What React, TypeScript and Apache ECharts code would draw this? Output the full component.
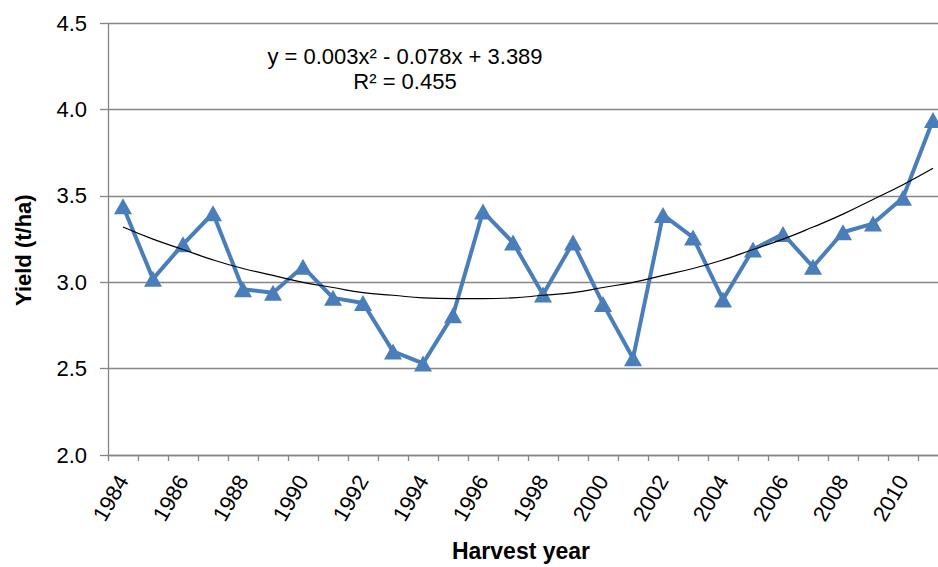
import React, { useEffect, useRef } from "react";
import * as echarts from "echarts";

const years = [
  "1984", "1985", "1986", "1987", "1988", "1989", "1990", "1991", "1992", "1993",
  "1994", "1995", "1996", "1997", "1998", "1999", "2000", "2001", "2002", "2003",
  "2004", "2005", "2006", "2007", "2008", "2009", "2010", "2011",
];

const yieldValues = [
  3.44, 3.02, 3.22, 3.40, 2.96, 2.94, 3.09, 2.91, 2.88, 2.60,
  2.53, 2.81, 3.41, 3.23, 2.93, 3.23, 2.875, 2.56, 3.39, 3.26,
  2.90, 3.19, 3.28, 3.09, 3.29, 3.34, 3.49, 3.94,
];

// polynomial trend line, values at each year
const trendValues = [
  3.32, 3.25, 3.19, 3.13, 3.08, 3.04, 3.00, 2.97, 2.94, 2.925,
  2.91, 2.906, 2.906, 2.91, 2.925, 2.94, 2.97, 3.00, 3.04, 3.08,
  3.13, 3.19, 3.25, 3.32, 3.395, 3.48, 3.565, 3.66,
];

const equationLine1 = "y = 0.003x² - 0.078x + 3.389";
const equationLine2 = "R² = 0.455";

const FONT = "'Liberation Sans', Arial, sans-serif";
const AXIS_GRAY = "#868686";

export default function App() {
  const ref = useRef<HTMLDivElement>(null);

  useEffect(() => {
    if (!ref.current) return;
    const chart = echarts.init(ref.current, null, { renderer: "svg" });
    chart.setOption({
      animation: false,
      backgroundColor: "#ffffff",
      textStyle: { fontFamily: FONT },
      grid: { left: 108, top: 23.3, right: 0, bottom: 110.3, containLabel: false },
      xAxis: {
        type: "category",
        data: years,
        boundaryGap: true,
        name: "Harvest year",
        nameLocation: "middle",
        nameGap: 84,
        nameTextStyle: {
          fontFamily: FONT,
          fontWeight: "bold",
          fontSize: 23,
          color: "#000",
          padding: [0, 14, 0, 0],
        },
        axisLine: { show: true, lineStyle: { color: AXIS_GRAY, width: 1.3 } },
        axisTick: { show: true, interval: 0, alignWithLabel: false, length: 6, lineStyle: { color: AXIS_GRAY, width: 1.3 } },
        axisLabel: {
          interval: 1,
          rotate: 60,
          margin: 22,
          fontFamily: FONT,
          fontSize: 22,
          color: "#000",
        },
        splitLine: { show: false },
      },
      yAxis: {
        type: "value",
        min: 2,
        max: 4.5,
        interval: 0.5,
        name: "Yield (t/ha)",
        nameLocation: "middle",
        nameGap: 74,
        nameRotate: 90,
        nameTextStyle: {
          fontFamily: FONT,
          fontWeight: "bold",
          fontSize: 22,
          color: "#000",
          padding: [0, 22, 0, 0],
        },
        axisLine: { show: true, lineStyle: { color: AXIS_GRAY, width: 1.3 } },
        axisTick: { show: true, inside: false, length: 8, lineStyle: { color: AXIS_GRAY, width: 1.3 } },
        axisLabel: {
          margin: 21,
          fontFamily: FONT,
          fontSize: 22,
          color: "#000",
          formatter: (v: number) => v.toFixed(1),
        },
        splitLine: { show: true, lineStyle: { color: AXIS_GRAY, width: 1.3 } },
      },
      graphic: [
        {
          type: "text",
          x: 405,
          y: 56.7,
          style: {
            text: equationLine1,
            fontFamily: FONT,
            fontSize: 22,
            fill: "#000",
            align: "center",
            verticalAlign: "middle",
          },
        },
        {
          type: "text",
          x: 405,
          y: 81.7,
          style: {
            text: equationLine2,
            fontFamily: FONT,
            fontSize: 22,
            fill: "#000",
            align: "center",
            verticalAlign: "middle",
          },
        },
      ],
      series: [
        {
          type: "line",
          name: "Yield",
          data: yieldValues,
          symbol: "triangle",
          symbolSize: [18, 16],
          showSymbol: true,
          lineStyle: { color: "#4A7EBB", width: 4 },
          itemStyle: { color: "#4A7EBB" },
          z: 2,
        },
        {
          type: "line",
          name: "Trend",
          data: trendValues,
          smooth: true,
          symbol: "none",
          lineStyle: { color: "#000", width: 1.2 },
          z: 3,
        },
      ],
    });
    return () => chart.dispose();
  }, []);

  return (
    <div
      style={{ position: "absolute", left: 0, top: 0, width: 938, height: 567, overflow: "hidden", background: "#fff" }}
    >
      <div ref={ref} style={{ width: 948, height: 567 }} />
    </div>
  );
}
